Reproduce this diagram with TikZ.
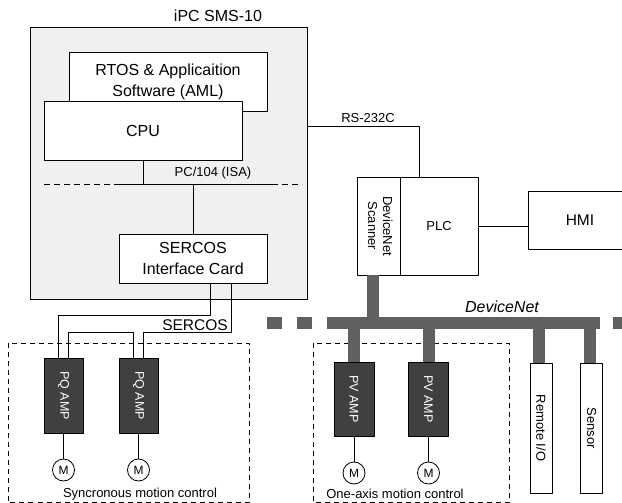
\documentclass[tikz,border=0pt]{standalone}
\usepackage{fontspec}
\setmainfont{Liberation Sans}
\usepackage{graphicx}
\usetikzlibrary{calc}
\definecolor{pcgray}{RGB}{240,240,240}
\definecolor{ampgray}{RGB}{64,64,64}
\definecolor{netgray}{RGB}{96,96,96}
\newcommand{\vtext}[1]{\rotatebox{-90}{#1}}

\begin{document}
\begin{tikzpicture}[x=1pt, y=-1pt, line width=0.8pt, line join=round,
    big/.style={font=\fontsize{16}{21}\selectfont},
    small/.style={font=\fontsize{13}{15}\selectfont},
    box/.style={draw, fill=white, inner sep=0pt, align=center, big},
    smallbox/.style={draw, fill=white, inner sep=0pt, align=center, small},
    amp/.style={draw, fill=ampgray, text=white, inner sep=0pt, font=\fontsize{12.5}{15}\selectfont},
    motor/.style={draw, circle, fill=white, minimum size=22pt, inner sep=0pt, font=\fontsize{12}{14}\selectfont},
    netline/.style={draw=netgray, line width=12pt},
    area/.style={draw, dash pattern=on 5pt off 4pt, line width=0.7pt}]
    \useasboundingbox (0,0) rectangle (622,503);
    % iPC and its cards
    \node[draw, fill=pcgray, minimum width=277, minimum height=272] (ipc) at (168.5,163) {};
    \node[big] (ipclabel) at (218,16) {iPC SMS-10};
    \node[box, minimum width=198, minimum height=59] (rtos) at (168,81.5) {RTOS \& Applicaition\\Software (AML)};
    \node[box, minimum width=198, minimum height=59] (cpu) at (143,130.5) {CPU};
    \coordinate (busL) at (44,184);
    \coordinate (bus1) at (115,184);
    \coordinate (bus2) at (272,184);
    \coordinate (busR) at (302,184);
    \draw[dash pattern=on 6pt off 4pt] (busL) -- (bus1);
    \draw (bus1) -- (bus2);
    \draw[dash pattern=on 6pt off 4pt] (bus2) -- (busR);
    \draw (cpu.south) -- (cpu.south |- bus1);
    \node[small] (isalabel) at (213,173) {PC/104 (ISA)};
    \node[box, minimum width=148, minimum height=49] (card) at (193,258.5) {SERCOS\\Interface Card};
    \draw (card.north) -- (card.north |- bus1);
    % PLC side
    \node[smallbox, minimum width=43, minimum height=98] (scanner) at (378.5,226) {\vtext{\begin{tabular}{@{}c@{}}DeviceNet\\Scanner\end{tabular}}};
    \node[smallbox, minimum width=78, minimum height=98] (plc) at (439,226) {PLC};
    \node[box, font=\fontsize{15.5}{18}\selectfont, minimum width=104, minimum height=58] (hmi) at (580,220) {HMI};
    \coordinate (rs) at (307,126);
    \draw (rs) -| ([xshift=20pt]plc.north west);
    \node[small] (rslabel) at (368,118) {RS-232C};
    \draw (plc.east) -- (plc.east -| hmi.west);
    % motion control groups
    \draw[area] (8,343) rectangle (249,502.5);
    \draw[area] (313,343) rectangle (509,502.5);
    \node[small] (synclabel) at (140,494) {Syncronous motion control};
    \node[small] (onelabel) at (395,494) {One-axis motion control};
    \node[amp, minimum width=39, minimum height=75] (pq1) at (63.5,395.5) {\vtext{PQ AMP}};
    \node[amp, minimum width=39, minimum height=75] (pq2) at (138.5,395.5) {\vtext{PQ AMP}};
    \node[motor] (m1) at (63.5,470) {M};
    \node[motor] (m2) at (138.5,470) {M};
    \draw (pq1) -- (m1);
    \draw (pq2) -- (m2);
    % SERCOS ring
    \draw ([xshift=92pt]card.south west) -- ++(0,32) -| ([xshift=-5pt]pq1.north);
    \draw ([xshift=5pt]pq1.north) -- ++(0,-25) -| ([xshift=-5pt]pq2.north);
    \draw ([xshift=5pt]pq2.north) -- ++(0,-25) -| ([xshift=113pt]card.south west);
    \node[font=\fontsize{15.5}{18}\selectfont] (sercoslabel) at (195,325) {SERCOS};
    % DeviceNet
    \node[amp, minimum width=40, minimum height=74] (pv1) at (354,399) {\vtext{PV AMP}};
    \node[amp, minimum width=40, minimum height=74] (pv2) at (428.5,399) {\vtext{PV AMP}};
    \node[motor] (m3) at (354,473) {M};
    \node[motor] (m4) at (428.5,473) {M};
    \draw (pv1) -- (m3);
    \draw (pv2) -- (m4);
    \node[smallbox, minimum width=22, minimum height=130] (rio) at (541,428) {\vtext{Remote I/O}};
    \node[smallbox, minimum width=22, minimum height=130] (sensor) at (591.5,428) {\vtext{Sensor}};
    \coordinate (netL) at (327,323);
    \coordinate (netR) at (600,323);
    \draw[netline] (netL) -- (netR);
    \fill[netgray] (267,317) rectangle (282,329);
    \fill[netgray] (297,317) rectangle (312,329);
    \fill[netgray] (613,317) rectangle (630,329);
    \draw[netline] ([xshift=-6pt]scanner.south) -- ([xshift=-6pt]scanner.south |- netL);
    \draw[netline] (pv1.north) -- (pv1.north |- netL);
    \draw[netline] (pv2.north) -- (pv2.north |- netL);
    \draw[netline] ([xshift=-2pt]rio.north) -- ([xshift=-2pt]rio.north |- netL);
    \draw[netline] ([xshift=-2pt]sensor.north) -- ([xshift=-2pt]sensor.north |- netL);
    \node[font=\fontsize{16}{19}\selectfont\itshape] (netlabel) at (502,307) {DeviceNet};
\end{tikzpicture}
\end{document}
